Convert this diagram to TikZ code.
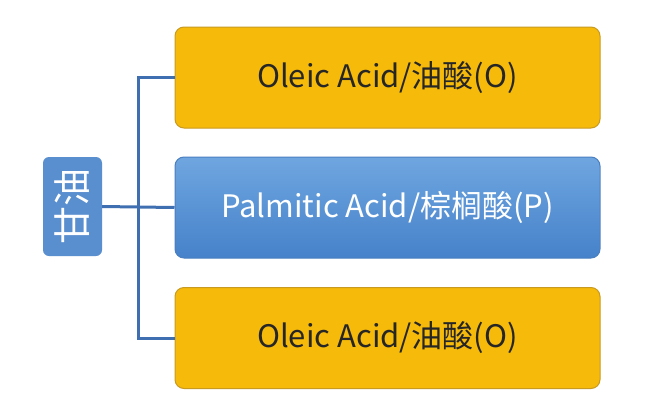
\documentclass[tikz,border=0pt]{standalone}
\usepackage{fontspec}
\setmainfont{Noto Sans CJK SC}
\definecolor{orf}{HTML}{F6BA0A}
\definecolor{ord}{HTML}{C99A20}
\definecolor{blt}{HTML}{6FA6E0}
\definecolor{blb}{HTML}{4682CA}
\definecolor{bld}{HTML}{4A7FC0}
\definecolor{ln}{HTML}{3F6FB0}
\begin{document}
\begin{tikzpicture}[x=1pt,y=-1pt,
  obox/.style={draw=ord,line width=1pt,fill=orf,rounded corners=9pt,minimum width=425pt,minimum height=101pt,font=\fontsize{31}{36}\selectfont,text=black!85},
  bbox/.style={draw=bld,line width=1pt,top color=blt,bottom color=blb,rounded corners=9pt,minimum width=425pt,minimum height=101pt,font=\fontsize{31}{36}\selectfont,text=white},
  conn/.style={draw=ln,line width=3pt}]
\fill[white] (0,0) rectangle (650,407);
\node[obox] (o1) at (387.5,77.5) {Oleic Acid/油酸(O)};
\node[bbox] (p) at (387.5,207.5) {Palmitic Acid/棕榈酸(P)};
\node[obox] (o2) at (387.5,338) {Oleic Acid/油酸(O)};
\node[fill=blb!90!white,rounded corners=6pt,minimum width=99pt,minimum height=59pt,rotate=90,text=white,font=\fontsize{38}{42}\selectfont] (g) at (72.5,206.5) {甘油};
\coordinate (j) at (138,207);
\draw[conn] (g.south) -- (j) -- (p.west);
\draw[conn] (o1.west) -| (j) |- (o2.west);
\end{tikzpicture}
\end{document}
